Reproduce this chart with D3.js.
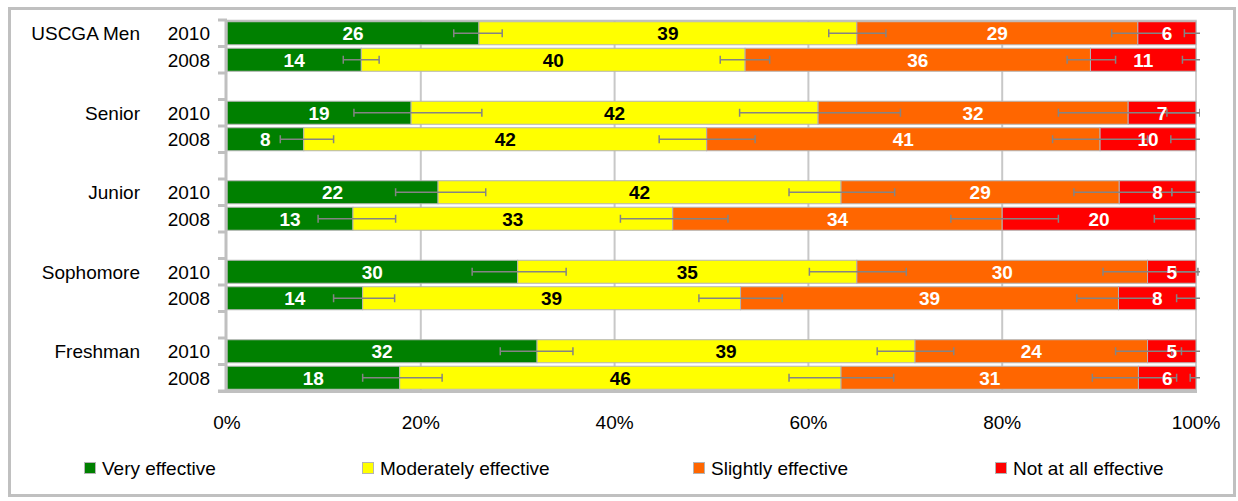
<!DOCTYPE html>
<html><head><meta charset="utf-8">
<script src="https://cdn.jsdelivr.net/npm/d3@7"></script>
<style>body{margin:0;background:#fff} text{font-family:"Liberation Sans",Arial,sans-serif}</style>
</head><body><svg id="c" width="1238" height="501"></svg>
<script>
// ---- data ----
const groups = ["USCGA Men", "Senior", "Junior", "Sophomore", "Freshman"];
const years = ["2010", "2008"];
const seriesNames = ["Very effective", "Moderately effective", "Slightly effective", "Not at all effective"];
// values per row: USCGA 2010, USCGA 2008, Senior 2010, Senior 2008, ...
const veryEffective      = [26, 14, 19,  8, 22, 13, 30, 14, 32, 18];
const moderatelyEffective = [39, 40, 42, 42, 42, 33, 35, 39, 39, 46];
const slightlyEffective  = [29, 36, 32, 41, 29, 34, 30, 39, 24, 31];
const notAtAllEffective  = [ 6, 11,  7, 10,  8, 20,  5,  8,  5,  6];
// error bar ends (cumulative %, low/high) per series per row
const errVeryLo  = [23.4, 12.0, 13.1,  5.5, 17.4,  9.4, 25.3, 11.0, 28.2, 14.0];
const errVeryHi  = [28.4, 15.7, 26.3, 11.0, 26.7, 17.4, 35.0, 17.3, 35.7, 22.2];
const errModLo   = [62.1, 50.9, 52.9, 44.6, 58.0, 40.6, 60.1, 48.7, 67.1, 58.0];
const errModHi   = [68.0, 56.0, 69.5, 54.5, 68.9, 51.7, 70.1, 57.3, 75.0, 68.8];
const errSlightLo= [91.3, 86.7, 85.8, 85.2, 87.4, 74.7, 90.4, 87.7, 91.7, 89.3];
const errSlightHi= [96.7, 91.7, 100.4, 95.0, 97.5, 85.8, 100.2, 96.3, 98.5, 98.0];
const errNotLo   = [98.8, 98.6, 97.0, 97.4, 97.5, 95.7, 97.9, 98.0, 97.5, 99.4];
const errNotHi   = [101.2, 101.4, 103.0, 102.6, 102.5, 104.3, 102.1, 102.0, 102.5, 100.6];
const xTicks = [0, 20, 40, 60, 80, 100];

// ---- styles ----
const colors = ["#008000", "#FFFF00", "#FF6600", "#FF0000"];
const labelColors = ["#fff", "#000", "#fff", "#fff"];
const gridColor = "#c8c8c8", axisColor = "#c0c0c0", errColor = "#848484";
const FS = 19;

const seriesVals = [veryEffective, moderatelyEffective, slightlyEffective, notAtAllEffective];
const errLo = [errVeryLo, errModLo, errSlightLo, errNotLo];
const errHi = [errVeryHi, errModHi, errSlightHi, errNotHi];

const rows = [];
groups.forEach((g, gi) => years.forEach((y, yi) => rows.push({ key: g + "|" + y, group: g, year: y, i: gi * 2 + yi })));
const slots = [];
groups.forEach((g, gi) => { if (gi > 0) slots.push("gap" + gi); years.forEach(y => slots.push(g + "|" + y)); });

const svg = d3.select("#c");
const x = d3.scaleLinear().domain([0, 100]).range([227, 1196]);
const y = d3.scaleBand().domain(slots).range([20, 391]).paddingInner(0.132).paddingOuter(0.066);
const step = y.step();

// outer frame
svg.append("rect").attr("x", 9.5).attr("y", 8.5).attr("width", 1225).attr("height", 487)
  .attr("fill", "#fff").attr("stroke", axisColor).attr("stroke-width", 3);

// gridlines
svg.append("g").selectAll("line").data(xTicks.filter(t => t > 0 && t < 100)).join("line")
  .attr("x1", d => x(d)).attr("x2", d => x(d)).attr("y1", 20).attr("y2", 391)
  .attr("stroke", gridColor).attr("stroke-width", 2);
// plot border top/right
svg.append("path").attr("d", `M${x(0)},20.5H${x(100)}V391`).attr("fill", "none")
  .attr("stroke", axisColor).attr("stroke-width", 1.5);

// stacked segments
const segs = [];
rows.forEach(r => {
  const vals = seriesVals.map(s => s[r.i]);
  const tot = d3.sum(vals);
  let c = 0;
  vals.forEach((v, si) => {
    const p = v / tot * 100;
    segs.push({ r, si, v, x0: c, x1: c + p });
    c += p;
  });
});
svg.append("g").selectAll("rect").data(segs).join("rect")
  .attr("x", d => x(d.x0)).attr("width", d => x(d.x1) - x(d.x0))
  .attr("y", d => y(d.r.key)).attr("height", y.bandwidth())
  .attr("fill", d => colors[d.si]).attr("stroke", "#b4b4b4").attr("stroke-width", 1);

// axes
const ax = svg.append("g");
ax.append("line").attr("x1", 226).attr("x2", 226).attr("y1", 20).attr("y2", 392.5)
  .attr("stroke", axisColor).attr("stroke-width", 3);
ax.selectAll("line.tk").data(d3.range(slots.length + 1)).join("line").attr("class", "tk")
  .attr("x1", 218).attr("x2", 227).attr("y1", d => 20 + d * step).attr("y2", d => 20 + d * step)
  .attr("stroke", axisColor).attr("stroke-width", 3);
ax.append("line").attr("x1", 218).attr("x2", 1197).attr("y1", 391.5).attr("y2", 391.5)
  .attr("stroke", axisColor).attr("stroke-width", 3);

// error bars (clipped near right edge)
svg.append("defs").append("clipPath").attr("id", "clip").append("rect")
  .attr("x", 0).attr("y", 0).attr("width", 1200).attr("height", 501);
const errs = [];
rows.forEach(r => seriesNames.forEach((s, si) => errs.push({ r, lo: errLo[si][r.i], hi: errHi[si][r.i] })));
const eg = svg.append("g").attr("clip-path", "url(#clip)").selectAll("g").data(errs).join("g")
  .attr("transform", d => `translate(0,${y(d.r.key) + y.bandwidth() / 2})`);
eg.append("line").attr("x1", d => x(d.lo)).attr("x2", d => x(d.hi))
  .attr("stroke", errColor).attr("stroke-width", 1.5);
eg.append("line").attr("x1", d => x(d.lo)).attr("x2", d => x(d.lo)).attr("y1", -4).attr("y2", 4)
  .attr("stroke", errColor).attr("stroke-width", 1.5);
eg.append("line").attr("x1", d => x(d.hi)).attr("x2", d => x(d.hi)).attr("y1", -4).attr("y2", 4)
  .attr("stroke", errColor).attr("stroke-width", 1.5);

// value labels
svg.append("g").selectAll("text").data(segs).join("text")
  .attr("x", d => x((d.x0 + d.x1) / 2)).attr("y", d => y(d.r.key) + y.bandwidth() / 2)
  .attr("dy", "0.36em").attr("text-anchor", "middle")
  .attr("font-size", FS).attr("font-weight", "bold").attr("fill", d => labelColors[d.si])
  .text(d => d.v);

// category labels
svg.append("g").selectAll("text").data(rows).join("text")
  .attr("x", 210).attr("y", d => y(d.key) + y.bandwidth() / 2).attr("dy", "0.36em")
  .attr("text-anchor", "end").attr("font-size", FS).attr("fill", "#000").text(d => d.year);
svg.append("g").selectAll("text").data(groups).join("text")
  .attr("x", 140).attr("y", d => y(d + "|" + years[0]) + y.bandwidth() / 2).attr("dy", "0.36em")
  .attr("text-anchor", "end").attr("font-size", FS).attr("fill", "#000").text(d => d);

// x tick labels
svg.append("g").selectAll("text").data(xTicks).join("text")
  .attr("x", d => x(d)).attr("y", 422).attr("dy", "0.36em").attr("text-anchor", "middle")
  .attr("font-size", FS).attr("fill", "#000").text(d => d + "%");

// legend
const legX = [84, 362, 693, 995];
const lg = svg.append("g").selectAll("g").data(seriesNames).join("g")
  .attr("transform", (d, i) => `translate(${legX[i]},462)`);
lg.append("rect").attr("x", 0.5).attr("y", 0.5).attr("width", 11).attr("height", 11)
  .attr("fill", (d, i) => colors[i]).attr("stroke", "#b4b4b4").attr("stroke-width", 1);
lg.append("text").attr("x", 18).attr("y", 6).attr("dy", "0.36em").attr("font-size", FS)
  .attr("fill", "#000").text(d => d);
</script></body></html>
